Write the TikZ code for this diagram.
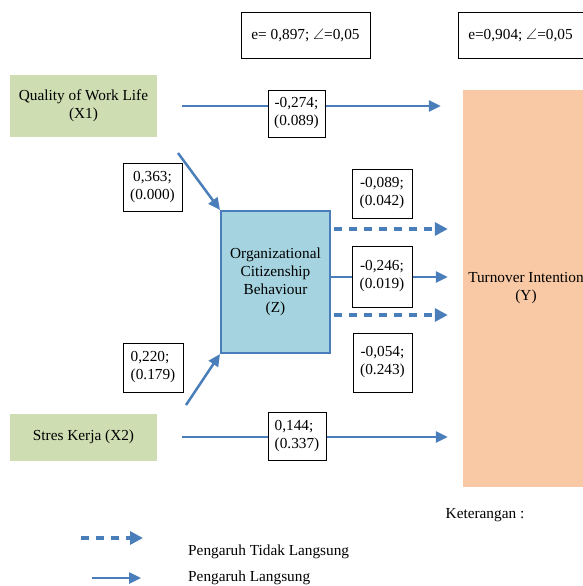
\documentclass[tikz,border=0pt]{standalone}
\usepackage{amssymb}
\usepackage{fontspec}
\setmainfont{Liberation Serif}
\usetikzlibrary{arrows.meta}

\definecolor{pathblue}{RGB}{74,126,187}
\definecolor{xgreen}{RGB}{206,221,178}
\definecolor{zblue}{RGB}{165,212,224}
\definecolor{yorange}{RGB}{249,200,164}

\begin{document}
\begin{tikzpicture}[x=1pt,y=-1pt,
    font=\fontsize{15.3}{18}\selectfont,
    varbox/.style={align=center, inner sep=0pt},
    coef/.style={draw, fill=white, line width=0.8pt, align=center, inner sep=0pt, minimum width=58, minimum height=48},
    ebox/.style={draw, line width=0.8pt, inner sep=0pt, minimum height=46},
    direct/.style={draw=pathblue, line width=2.5pt, -{Triangle[length=12pt,width=11pt]}},
    indirect/.style={direct, line width=4pt, dash pattern=on 8pt off 7pt, shorten <=3pt, -{Triangle[length=13pt,width=13pt]}}]

\useasboundingbox (0,0) rectangle (583,586);
\clip (0,0) rectangle (583,586);

% variables
\node[varbox, fill=xgreen, minimum width=147, minimum height=62] (x1) at (83.5,106) {Quality of Work Life\\(X1)};
\node[varbox, fill=xgreen, minimum width=147, minimum height=47] (x2) at (83.5,437) {Stres Kerja (X2)};
\node[varbox, draw=pathblue, line width=2pt, fill=zblue, minimum width=109, minimum height=142] (z) at (275.5,282) {Organizational\\Citizenship\\Behaviour\\(Z)};
\node[varbox, fill=yorange, minimum width=126, minimum height=397] (y) at (526,288.5) {Turnover Intention\\(Y)};

\node[ebox, minimum width=129] (e1) at (305.5,35) {e= 0,897; $\angle$=0,05};
\node[ebox, minimum width=125] (e2) at (520.5,35) {e=0,904; $\angle$=0,05};

% paths
\coordinate (a1) at (178,153);
\coordinate (a2) at (186,405);

\draw[direct, shorten <=25pt, shorten >=22pt] (x1.east) -- (x1.east -| y.west);
\draw[direct, shorten <=25pt, shorten >=15pt] (x2.east) -- (x2.east -| y.west);
\draw[direct] (a1) -- (z.north west);
\draw[direct] (a2) -- (z.south west);

\foreach \r/\s in {229/indirect, 277/direct, 315/indirect}
    \draw[\s, shorten >=15pt] (z.east |- 0,\r) -- (y.west |- 0,\r);

% coefficients
\node[coef, minimum width=57, minimum height=47] (c1) at (296.5,113.5) {-0,274;\\(0.089)};
\node[coef, minimum width=59] (c2) at (152.5,187) {0,363;\\(0.000)};
\node[coef, align=left, minimum width=60, minimum height=49] (c3) at (153,367.5) {0,220;\\(0.179)};
\node[coef, align=left] (c4) at (297,436) {0,144;\\(0.337)};
\node[coef, minimum width=60, minimum height=49] (c5) at (382,193.5) {-0,089;\\(0.042)};
\node[coef, minimum width=60, minimum height=61] (c6) at (382,276.5) {-0,246;\\(0.019)};
\node[coef, minimum width=59, minimum height=59] (c7) at (382.5,362.5) {-0,054;\\(0.243)};

% legend
\node (ket) at (485,515) {Keterangan :};
\node[anchor=west, inner sep=0pt] (tl) at (188,552) {Pengaruh Tidak Langsung};
\node[anchor=west, inner sep=0pt] (ll) at (188,578) {Pengaruh Langsung};

\coordinate (d0) at (81,538);
\coordinate (d1) at (143,538);
\coordinate (s0) at (92,578);
\coordinate (s1) at (141,578);
\draw[indirect, shorten <=0pt] (d0) -- (d1);
\draw[direct] (s0) -- (s1);

\end{tikzpicture}
\end{document}
